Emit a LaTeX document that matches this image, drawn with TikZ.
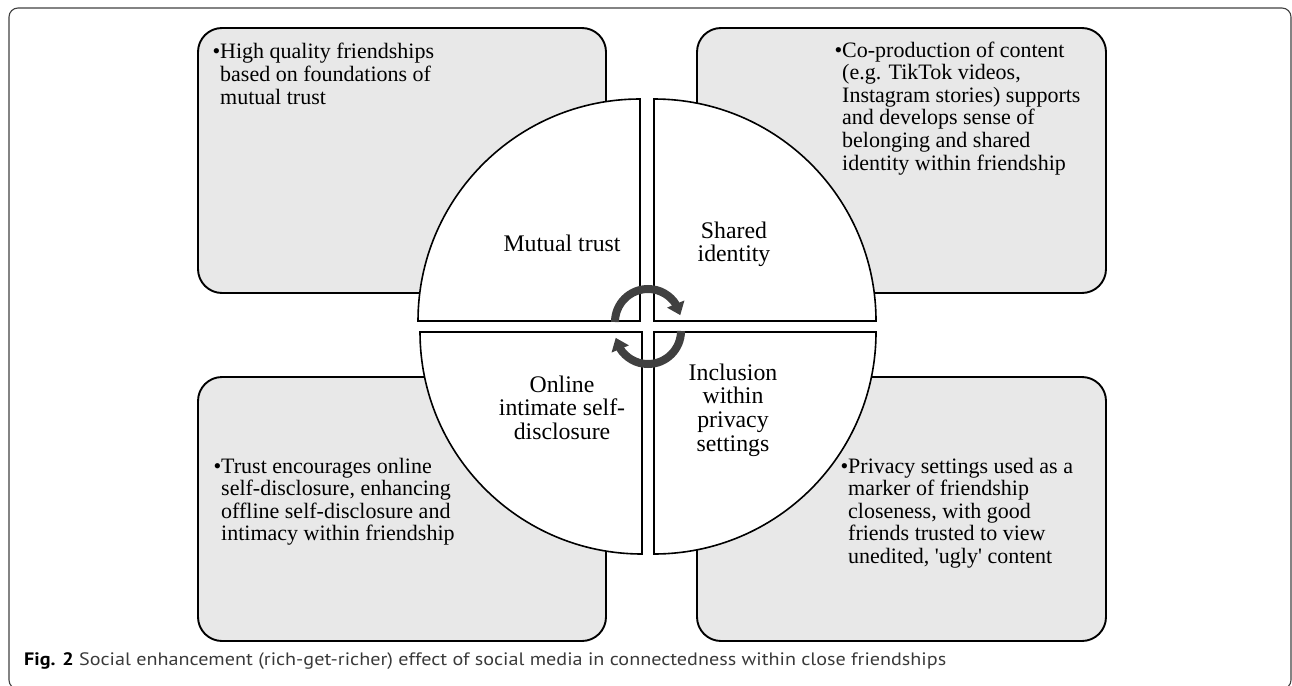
\documentclass[tikz,border=0pt]{standalone}
\usepackage{fontspec}
\usepackage{graphicx}
\setmainfont{Liberation Serif}[Ligatures=TeXOff]
\newfontfamily\capfont{PT Sans}
\usetikzlibrary{arrows.meta,bending}
\definecolor{boxgray}{HTML}{E8E8E8}
\definecolor{arrgray}{HTML}{404040}
\definecolor{capgray}{HTML}{3A3A3A}
\newcommand{\lefttext}[1]{\vtop{\halign{##\hfil\cr#1\crcr}}}
\newcommand{\centertext}[1]{\vtop{\halign{\hfil##\hfil\cr#1\crcr}}}
\begin{document}
\begin{tikzpicture}[x=1pt,y=1pt,
  boxstyle/.style={draw=black,line width=1.9pt,fill=boxgray,rounded corners=24pt},
  quad/.style={draw=black,line width=1.6pt,fill=white,line join=miter},
  cyc/.style={draw=arrgray,line width=8pt,-{Triangle[width=18pt,length=12pt]}},
  btext/.style={inner sep=0pt,anchor=base west,font=\fontsize{22}{22.6}\selectfont},
  qtext/.style={inner sep=0pt,anchor=base,font=\fontsize{23.8}{23.8}\selectfont}]
\useasboundingbox (0,0) rectangle (1292,-685);
% outer frame
\draw[line width=1.1pt,draw=black!75,rounded corners=9pt] (9,-8) rectangle (1291,-689);
% grey boxes
\draw[boxstyle] (198,-28) rectangle (606,-293);
\draw[boxstyle] (697,-28) rectangle (1106,-293);
\draw[boxstyle] (198,-377) rectangle (606,-641);
\draw[boxstyle] (697,-377) rectangle (1106,-641);
% quadrants
\draw[quad] (640,-321) -- (418,-321) arc[start angle=180,end angle=90,radius=222] -- cycle;
\draw[quad] (654,-321) -- (654,-99) arc[start angle=90,end angle=0,radius=222] -- cycle;
\draw[quad] (642,-332) -- (420,-332) arc[start angle=180,end angle=270,radius=222] -- cycle;
\draw[quad] (654,-332) -- (876,-332) arc[start angle=0,end angle=-90,radius=222] -- cycle;
% cycle arrows
\draw[cyc] (615,-322) arc[start angle=180,end angle=12,radius=33];
\draw[cyc] (681,-331) arc[start angle=0,end angle=-168,radius=33];
% quadrant labels
\node[qtext] (mt) at (562,-251) {Mutual trust};
\node[qtext] (si) at (734,-238) {\centertext{Shared\cr identity}};
\node[qtext] (oi) at (562,-392) {\centertext{Online\cr intimate self-\cr disclosure}};
\node[qtext] (ip) at (733,-380) {\centertext{Inclusion\cr within\cr privacy\cr settings}};
% box texts
\node[btext] (tl) at (220,-59) {\lefttext{\llap{•}High quality friendships\cr based on foundations of\cr mutual trust}};
\node[btext] (tr) at (842,-57) {\lefttext{\llap{•}Co-production of content\cr (e.g. TikTok videos,\cr Instagram stories) supports\cr and develops sense of\cr belonging and shared\cr identity within friendship}};
\node[btext] (bl) at (221,-473) {\lefttext{\llap{•}Trust encourages online\cr self-disclosure, enhancing\cr offline self-disclosure and\cr intimacy within friendship}};
\node[btext] (br) at (848,-473) {\lefttext{\llap{•}Privacy settings used as a\cr marker of friendship\cr closeness, with good\cr friends trusted to view\cr unedited, 'ugly' content}};
% caption
\node[inner sep=0pt,anchor=base west] (cap) at (24,-665) {\resizebox{922pt}{\height}{\capfont\fontsize{18}{20}\selectfont\textbf{\color{black}Fig. 2} \color{capgray}Social enhancement (rich-get-richer) effect of social media in connectedness within close friendships}};
\end{tikzpicture}
\end{document}
